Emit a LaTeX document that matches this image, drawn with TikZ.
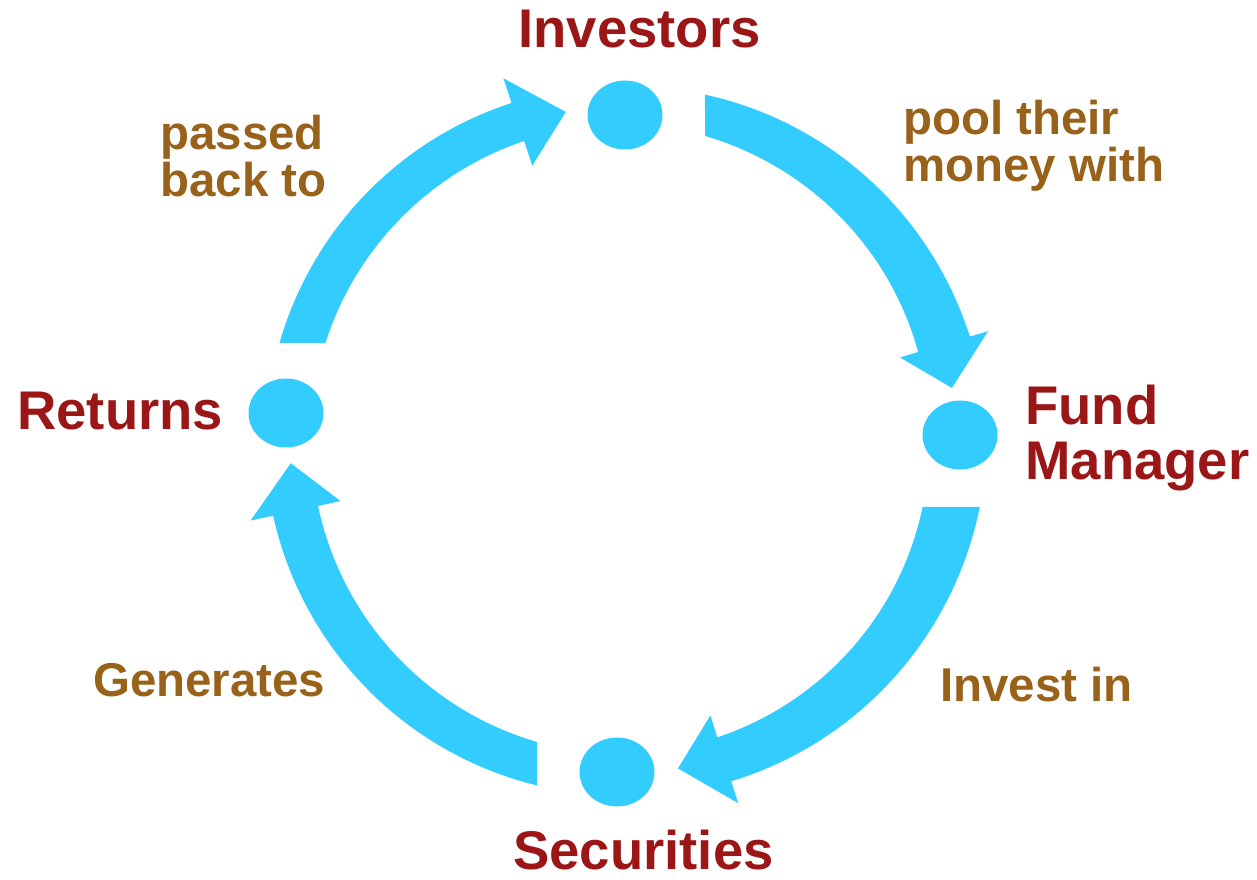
\documentclass[tikz,border=0pt]{standalone}
\usepackage{fontspec}
\setmainfont{Liberation Sans}
\usepackage{xcolor}
\usepackage{tikz}
\usetikzlibrary{shapes.geometric}

\definecolor{flowblue}{RGB}{51,204,255}
\definecolor{partyred}{RGB}{155,22,22}
\definecolor{actionbrown}{RGB}{152,98,26}

\newcommand{\ringr}{335}
\newcommand{\headw}{46}
% #1 outer start angle, #2 angle of head base, #3 angle of tip,
% #4/#5 half width at start/head, #6 inner start angle
\newcommand{\flowarrow}[6]{%
  \fill[flowblue] plot[domain=#1:#2,samples=40] (\x:{\ringr+#4+(#5-(#4))*(\x-(#1))/((#2)-(#1))})
    -- (#2:{\ringr+\headw}) -- (#3:{\ringr-2}) -- (#2:{\ringr-\headw})
    -- plot[domain=#2:#6,samples=40] (\x:{\ringr-#4-(#5-(#4))*(\x-(#6))/((#2)-(#6))}) -- cycle;}

\begin{document}
\begin{tikzpicture}[x=0.02cm,y=0.02cm,
  dot/.style={ellipse,fill=flowblue,minimum width=1.5cm,minimum height=1.38cm,inner sep=0pt},
  party/.style={text=partyred,font=\bfseries\fontsize{31}{31}\selectfont,inner sep=0pt},
  action/.style={text=actionbrown,font=\bfseries\fontsize{27}{26.5}\selectfont,inner sep=0pt}]
\useasboundingbox (0,0) rectangle (1257,879);

\coordinate (c) at (623,439);

% the four flow arrows round the ring
\begin{scope}[shift={(c)}]
\flowarrow{76.65}{16.6}{9}{20}{27}{74.9}
\flowarrow{-10.6}{-72.4}{-80.5}{28}{23}{-12.6}
\flowarrow{-104.0}{-167.8}{-176}{21}{23}{-105.9}
\flowarrow{164.2}{108.3}{99.9}{22}{20}{161.95}
\end{scope}

\node[dot] (inv) at (625,764) {};
\node[dot] (fund) at (960,444) {};
\node[dot] (sec) at (617,107) {};
\node[dot] (ret) at (286,466) {};

\node[party,anchor=base west] (invlbl) at (518,831) {Investors};
\node[party,anchor=north west,align=left] (fundlbl) at (1025,494) {Fund\\Manager};
\node[party,anchor=base west] (retlbl) at (17,449) {Returns};
\node[party,anchor=base west] (seclbl) at (513,10) {Securities};

\node[action,anchor=north west,align=left] (passlbl) at (160,764) {passed\\back to};
\node[action,anchor=north west,align=left] (poollbl) at (903,779) {pool their\\money with};
\node[action,anchor=base west] (genlbl) at (93,182) {Generates};
\node[action,anchor=base west] (investlbl) at (940,177) {Invest in};
\end{tikzpicture}
\end{document}
